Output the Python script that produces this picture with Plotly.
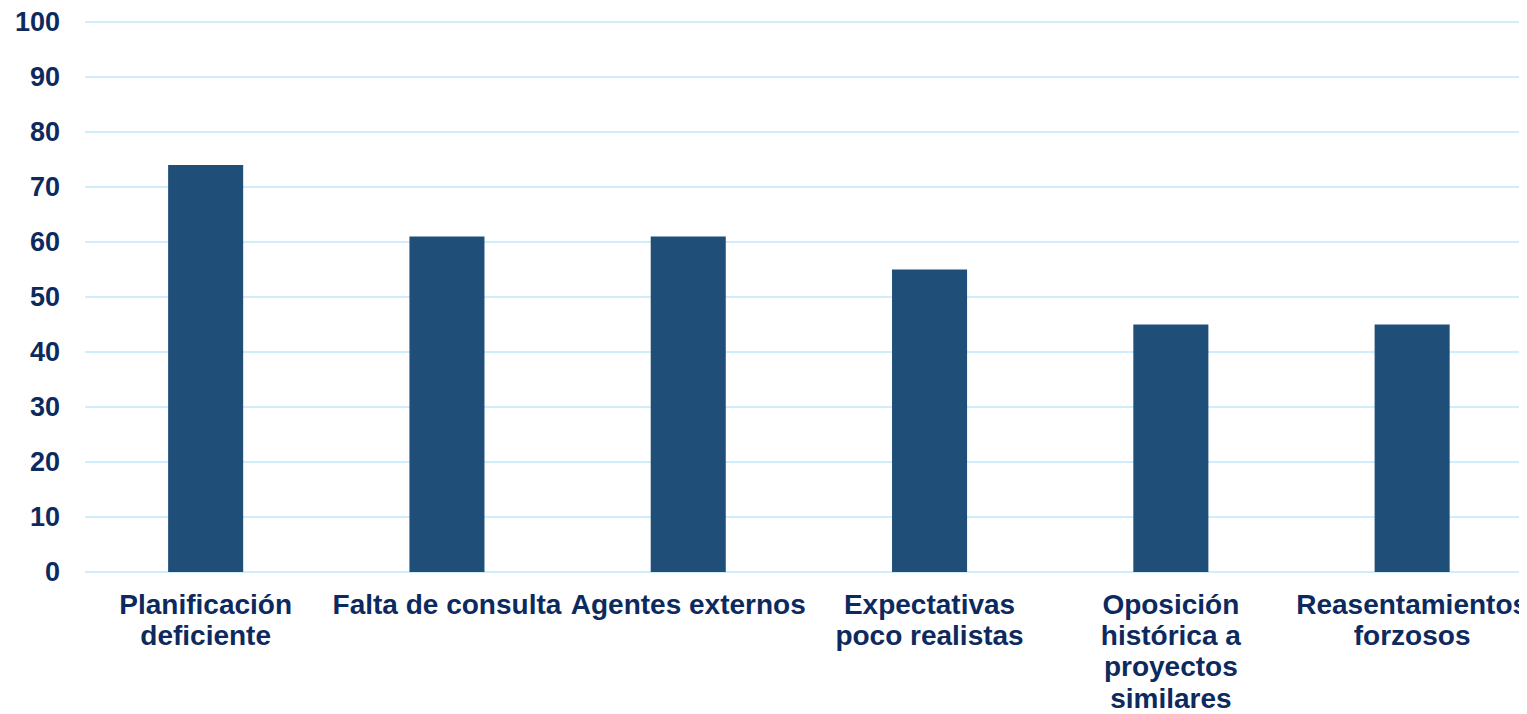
import plotly.graph_objects as go

categories = [
    "Planificación<br>deficiente",
    "Falta de consulta",
    "Agentes externos",
    "Expectativas<br>poco realistas",
    "Oposición<br>histórica a<br>proyectos<br>similares",
    "Reasentamientos<br>forzosos",
]
values = [74, 61, 61, 55, 45, 45]
y_ticks = [0, 10, 20, 30, 40, 50, 60, 70, 80, 90, 100]

text_color = "#0D2A5F"
bar_color = "#1F4E79"
grid_color = "#CDEEFA"


def fmt_label(label):
    return "<br>".join(
        "<span style='font-size:28px'><b>%s</b></span>" % part for part in label.split("<br>")
    )


fig = go.Figure(
    go.Bar(x=list(range(len(categories))), y=values, marker=dict(color=bar_color, line=dict(width=0)))
)

fig.update_layout(
    width=1519,
    height=706,
    margin=dict(l=77, r=0, t=8, b=142),
    paper_bgcolor="white",
    plot_bgcolor="white",
    bargap=0.689,
    showlegend=False,
    font=dict(family="Liberation Sans, Arial, sans-serif", color=text_color, size=27),
)
fig.update_xaxes(
    tickmode="array",
    tickvals=list(range(len(categories))),
    ticktext=[fmt_label(c) for c in categories],
    range=[-0.5, 5.476],
    showgrid=False,
    zeroline=False,
    showline=False,
    ticks="",
    tickangle=0,
    ticklabelstandoff=17,
    ticklabeloverflow="allow",
    automargin=False,
    tickfont=dict(size=24, color=text_color),
)
fig.update_yaxes(
    range=[0, 101.09],
    tickmode="array",
    tickvals=y_ticks,
    ticktext=["<b>%d</b>" % v for v in y_ticks],
    showgrid=True,
    gridcolor=grid_color,
    gridwidth=2,
    zeroline=True,
    zerolinecolor=grid_color,
    zerolinewidth=2,
    showline=False,
    ticks="",
    ticklabelstandoff=24,
    ticklabeloverflow="allow",
    automargin=False,
    tickfont=dict(size=27, color=text_color),
)

fig.write_html("out.html")
